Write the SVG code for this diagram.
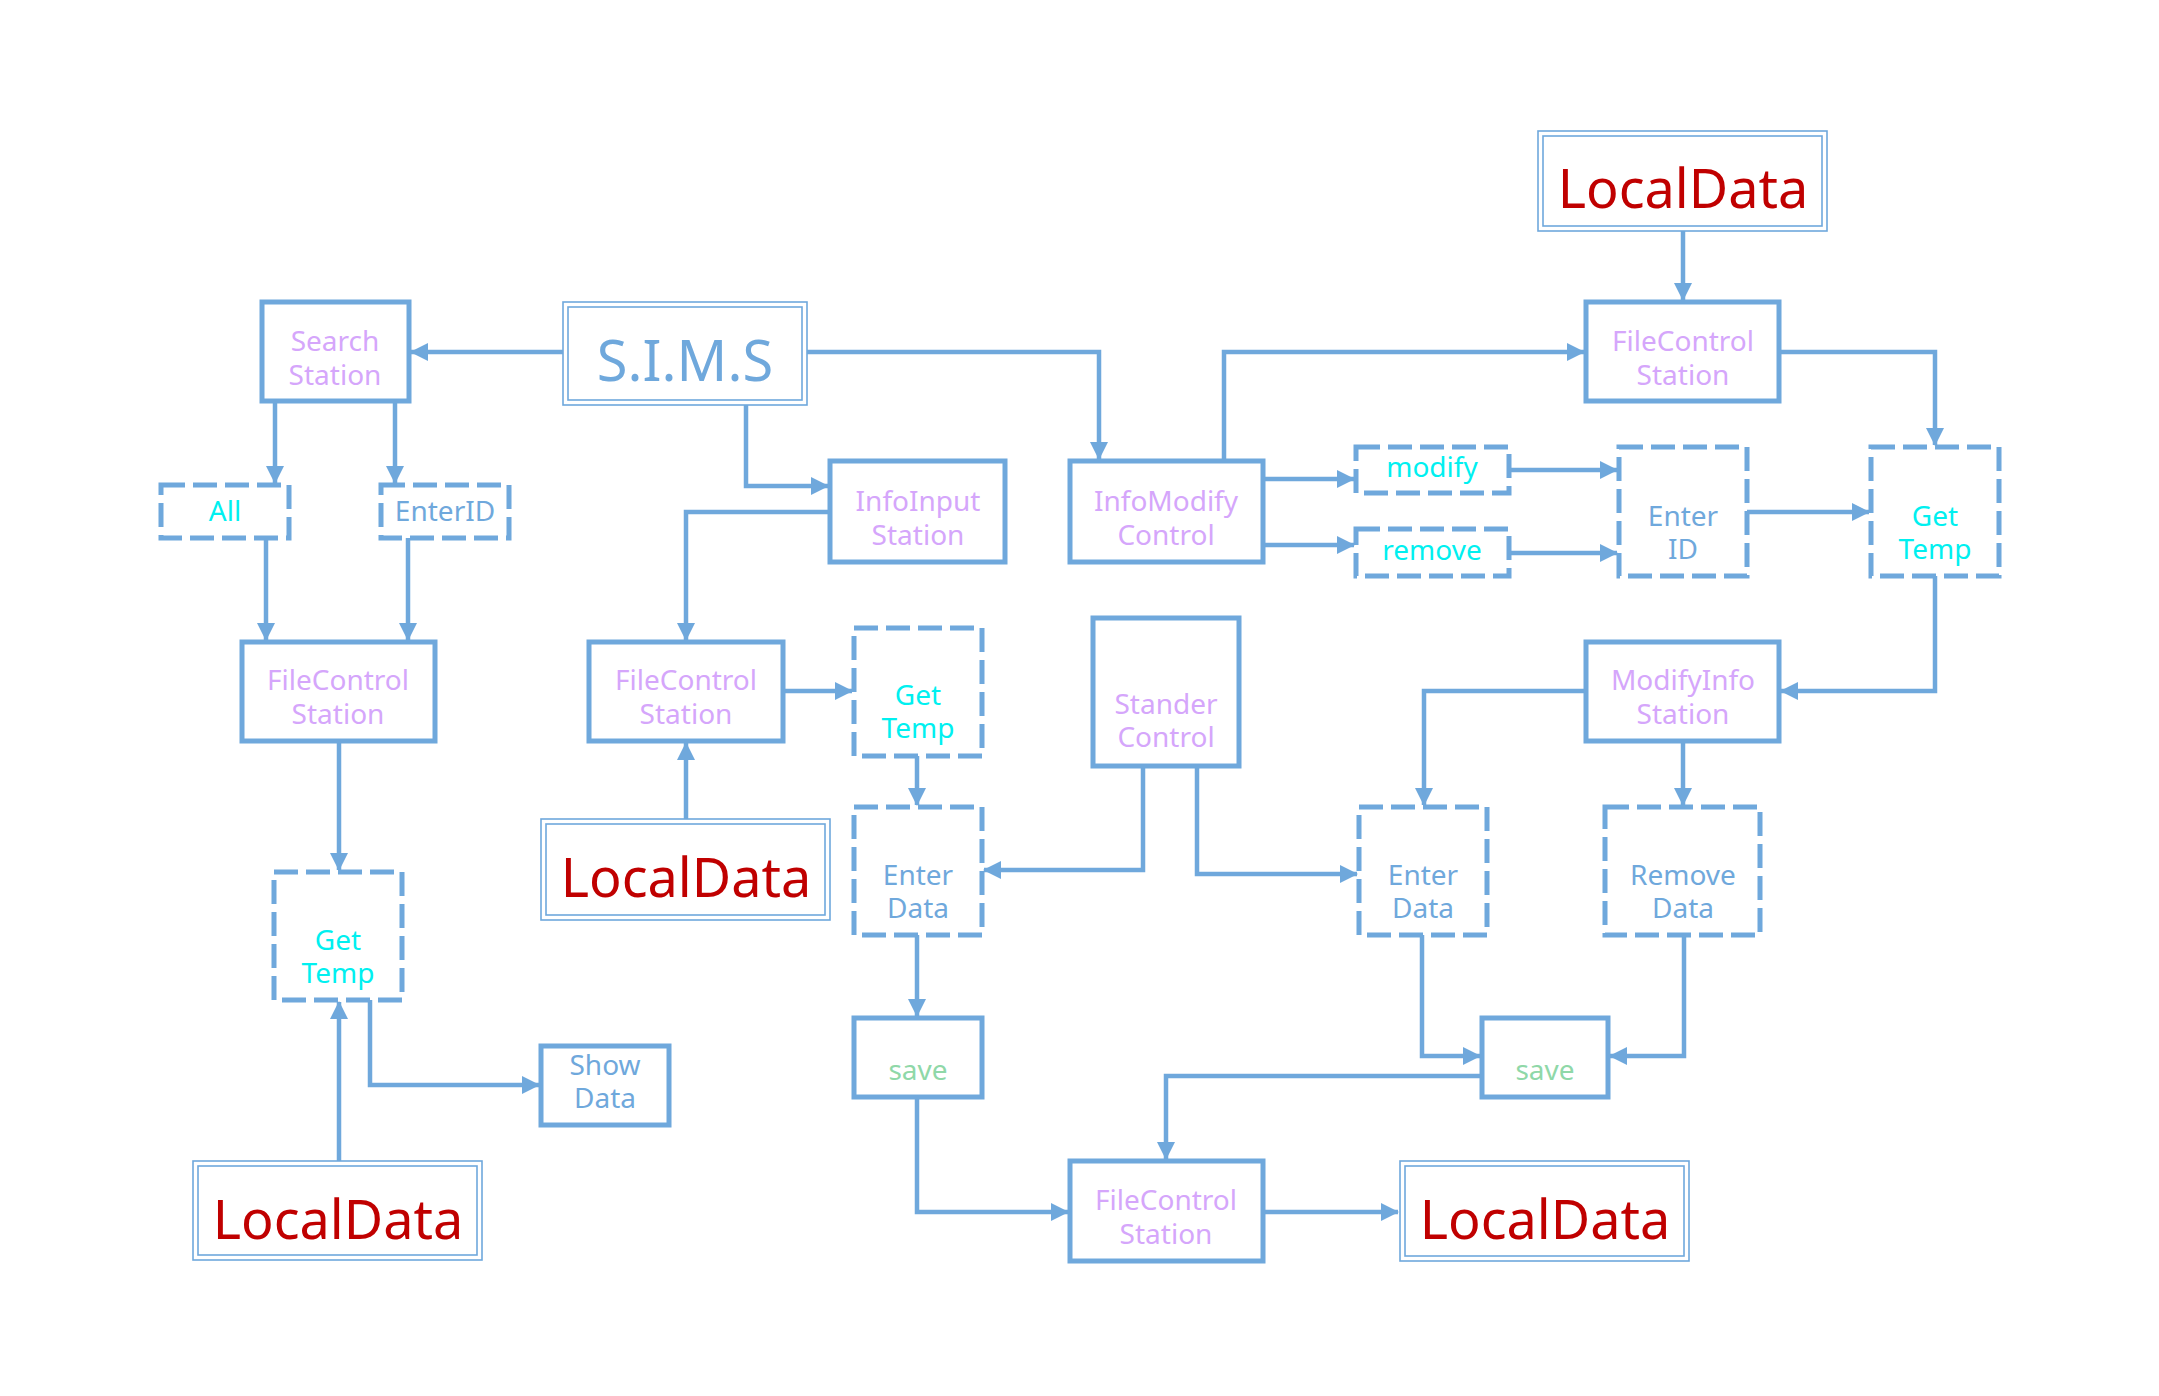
<svg xmlns="http://www.w3.org/2000/svg" width="2159" height="1396" viewBox="0 0 2159 1396">
<style>
.box{fill:#fff;stroke:#6fa8dc;stroke-width:5}
.dash{fill:#fff;stroke:#6fa8dc;stroke-width:5;stroke-dasharray:24 8}
.dbo{fill:#fff;stroke:#6fa8dc;stroke-width:1.6}
.dbi{fill:none;stroke:#6fa8dc;stroke-width:1.6}
.c{fill:none;stroke:#6fa8dc;stroke-width:4.5;marker-end:url(#ah)}
text{font-family:"Noto Sans","Open Sans","DejaVu Sans",sans-serif;text-anchor:middle;font-size:28px}
.lav{fill:#d5a6fb}
.cy{fill:#00f0f0}
.bl{fill:#6fa8dc}
.gr{fill:#8fd8a8}
.red{fill:#c00000;font-size:54px}
.big{fill:#6fa8dc;font-size:56px}
</style>
<defs>
<marker id="ah" markerUnits="userSpaceOnUse" markerWidth="18" markerHeight="18" refX="17" refY="9" orient="auto">
<path d="M0,0 L18,9 L0,18 z" fill="#6fa8dc"/>
</marker>
</defs>
<rect width="2159" height="1396" fill="#fff"/>
<g id="connectors">
<path class="c" d="M563,352 H411"/>
<path class="c" d="M807,352 H1099 V459"/>
<path class="c" d="M746,405 V486 H828"/>
<path class="c" d="M830,512 H686 V640"/>
<path class="c" d="M275,401 V483"/>
<path class="c" d="M395,401 V483"/>
<path class="c" d="M266,538 V640"/>
<path class="c" d="M408,538 V640"/>
<path class="c" d="M339,741 V870"/>
<path class="c" d="M339,1161 V1002"/>
<path class="c" d="M370,1000 V1085 H539"/>
<path class="c" d="M686,819 V743"/>
<path class="c" d="M783,691 H852"/>
<path class="c" d="M917,756 V805"/>
<path class="c" d="M1143,766 V870 H984"/>
<path class="c" d="M1197,766 V874 H1357"/>
<path class="c" d="M917,935 V1016"/>
<path class="c" d="M917,1097 V1212 H1068"/>
<path class="c" d="M1263,1212 H1398"/>
<path class="c" d="M1482,1076 H1166 V1159"/>
<path class="c" d="M1422,935 V1056 H1480"/>
<path class="c" d="M1684,935 V1056 H1610"/>
<path class="c" d="M1586,691 H1424 V805"/>
<path class="c" d="M1683,741 V805"/>
<path class="c" d="M1935,576 V691 H1781"/>
<path class="c" d="M1224,461 V352 H1584"/>
<path class="c" d="M1683,231 V300"/>
<path class="c" d="M1779,352 H1935 V445"/>
<path class="c" d="M1263,479 H1354"/>
<path class="c" d="M1263,545 H1354"/>
<path class="c" d="M1509,470 H1617"/>
<path class="c" d="M1509,553 H1617"/>
<path class="c" d="M1747,512 H1869"/>
</g>
<g id="sims"><rect class="dbo" x="563" y="302" width="244" height="103"/><rect class="dbi" x="568" y="307" width="234" height="93"/><text class="big" x="685" y="381">S.I.M.S</text></g>
<g id="search-station"><rect class="box" x="262" y="302" width="147" height="99"/><text class="lav" x="335" y="351">Search</text><text class="lav" x="335" y="385">Station</text></g>
<g id="all"><rect class="dash" x="161" y="485" width="128" height="53"/><text class="cy" x="225" y="521">All</text></g>
<g id="enterid"><rect class="dash" x="381" y="485" width="128" height="53"/><text class="bl" x="445" y="521">EnterID</text></g>
<g id="filecontrol-left"><rect class="box" x="242" y="642" width="193" height="99"/><text class="lav" x="338" y="690">FileControl</text><text class="lav" x="338" y="724">Station</text></g>
<g id="gettemp-left"><rect class="dash" x="274" y="872" width="128" height="128"/><text class="cy" x="338" y="950">Get</text><text class="cy" x="338" y="983">Temp</text></g>
<g id="showdata"><rect class="box" x="541" y="1046" width="128" height="79"/><text class="bl" x="605" y="1075">Show</text><text class="bl" x="605" y="1108">Data</text></g>
<g id="localdata-bl"><rect class="dbo" x="193" y="1161" width="289" height="99"/><rect class="dbi" x="198" y="1166" width="279" height="89"/><text class="red" x="338" y="1239">LocalData</text></g>
<g id="infoinput"><rect class="box" x="830" y="461" width="175" height="101"/><text class="lav" x="918" y="511">InfoInput</text><text class="lav" x="918" y="545">Station</text></g>
<g id="filecontrol-mid"><rect class="box" x="589" y="642" width="194" height="99"/><text class="lav" x="686" y="690">FileControl</text><text class="lav" x="686" y="724">Station</text></g>
<g id="gettemp-mid"><rect class="dash" x="854" y="628" width="128" height="128"/><text class="cy" x="918" y="705">Get</text><text class="cy" x="918" y="738">Temp</text></g>
<g id="localdata-mid"><rect class="dbo" x="541" y="819" width="289" height="101"/><rect class="dbi" x="546" y="824" width="279" height="91"/><text class="red" x="686" y="897">LocalData</text></g>
<g id="enterdata-mid"><rect class="dash" x="854" y="807" width="128" height="128"/><text class="bl" x="918" y="885">Enter</text><text class="bl" x="918" y="918">Data</text></g>
<g id="save-mid"><rect class="box" x="854" y="1018" width="128" height="79"/><text class="gr" x="918" y="1080">save</text></g>
<g id="infomodify"><rect class="box" x="1070" y="461" width="193" height="101"/><text class="lav" x="1166" y="511">InfoModify</text><text class="lav" x="1166" y="545">Control</text></g>
<g id="stander"><rect class="box" x="1093" y="618" width="146" height="148"/><text class="lav" x="1166" y="714">Stander</text><text class="lav" x="1166" y="747">Control</text></g>
<g id="filecontrol-bottom"><rect class="box" x="1070" y="1161" width="193" height="100"/><text class="lav" x="1166" y="1210">FileControl</text><text class="lav" x="1166" y="1244">Station</text></g>
<g id="localdata-br"><rect class="dbo" x="1400" y="1161" width="289" height="100"/><rect class="dbi" x="1405" y="1166" width="279" height="90"/><text class="red" x="1545" y="1239">LocalData</text></g>
<g id="modify"><rect class="dash" x="1356" y="447" width="153" height="46"/><text class="cy" x="1432" y="477">modify</text></g>
<g id="remove"><rect class="dash" x="1356" y="529" width="153" height="47"/><text class="cy" x="1432" y="560">remove</text></g>
<g id="enterid-right"><rect class="dash" x="1619" y="447" width="128" height="129"/><text class="bl" x="1683" y="526">Enter</text><text class="bl" x="1683" y="559">ID</text></g>
<g id="gettemp-right"><rect class="dash" x="1871" y="447" width="128" height="129"/><text class="cy" x="1935" y="526">Get</text><text class="cy" x="1935" y="559">Temp</text></g>
<g id="localdata-top"><rect class="dbo" x="1538" y="131" width="289" height="100"/><rect class="dbi" x="1543" y="136" width="279" height="90"/><text class="red" x="1683" y="208">LocalData</text></g>
<g id="filecontrol-top"><rect class="box" x="1586" y="302" width="193" height="99"/><text class="lav" x="1683" y="351">FileControl</text><text class="lav" x="1683" y="385">Station</text></g>
<g id="modifyinfo"><rect class="box" x="1586" y="642" width="193" height="99"/><text class="lav" x="1683" y="690">ModifyInfo</text><text class="lav" x="1683" y="724">Station</text></g>
<g id="enterdata-right"><rect class="dash" x="1359" y="807" width="128" height="128"/><text class="bl" x="1423" y="885">Enter</text><text class="bl" x="1423" y="918">Data</text></g>
<g id="removedata"><rect class="dash" x="1605" y="807" width="155" height="128"/><text class="bl" x="1683" y="885">Remove</text><text class="bl" x="1683" y="918">Data</text></g>
<g id="save-right"><rect class="box" x="1482" y="1018" width="126" height="79"/><text class="gr" x="1545" y="1080">save</text></g>
</svg>
